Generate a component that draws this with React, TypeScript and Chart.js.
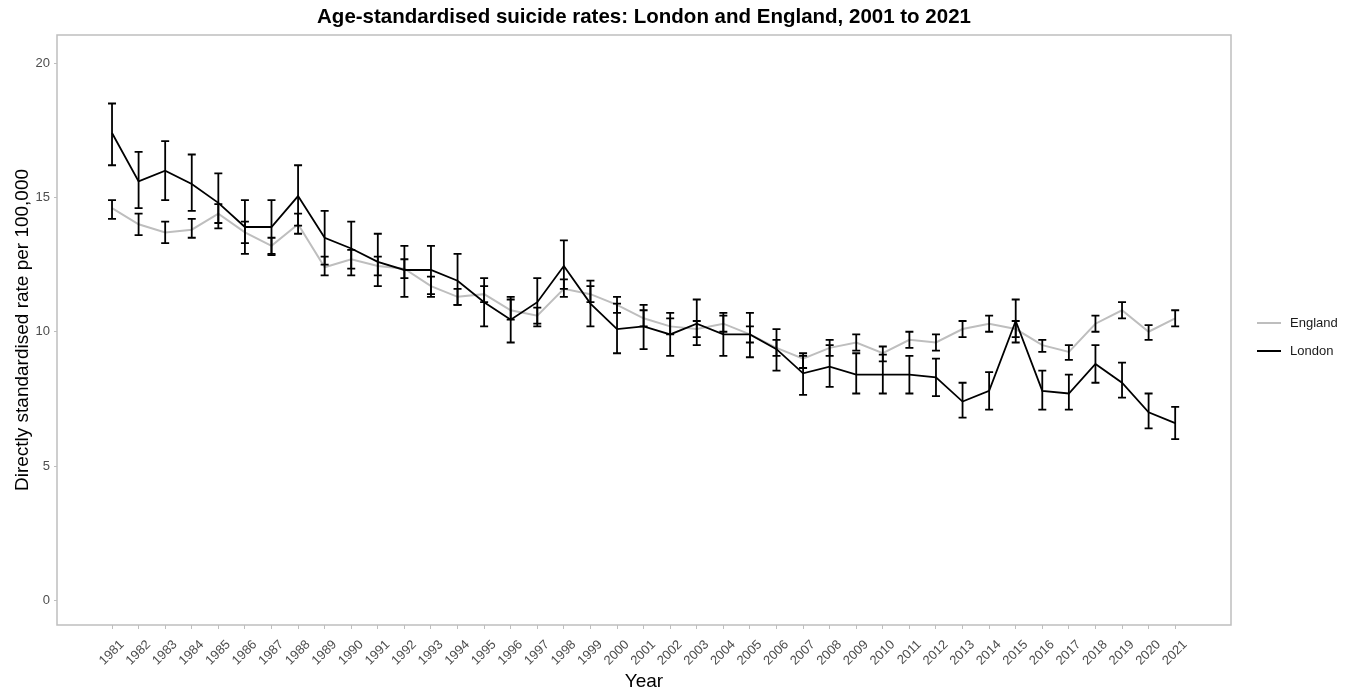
import { useEffect, useRef } from 'react';
import { Chart, registerables } from 'chart.js';

Chart.register(...registerables);

const FONT = '"Liberation Sans", Arial, sans-serif';

const years = [
  1981, 1982, 1983, 1984, 1985, 1986, 1987, 1988, 1989, 1990,
  1991, 1992, 1993, 1994, 1995, 1996, 1997, 1998, 1999, 2000,
  2001, 2002, 2003, 2004, 2005, 2006, 2007, 2008, 2009, 2010,
  2011, 2012, 2013, 2014, 2015, 2016, 2017, 2018, 2019, 2020, 2021,
];

const englandRate = [
  14.6, 14.0, 13.7, 13.8, 14.4, 13.7, 13.2, 14.0, 12.4, 12.7,
  12.45, 12.35, 11.7, 11.3, 11.4, 10.8, 10.6, 11.6, 11.4, 11.0,
  10.5, 10.2, 10.1, 10.3, 9.9, 9.4, 9.0, 9.4, 9.6, 9.2,
  9.7, 9.6, 10.1, 10.3, 10.1, 9.5, 9.25, 10.3, 10.8, 10.0, 10.5,
];
const englandLower = [
  14.2, 13.6, 13.3, 13.5, 14.05, 13.3, 12.9, 13.65, 12.1, 12.35,
  12.1, 12.0, 11.4, 11.0, 11.1, 10.45, 10.3, 11.3, 11.1, 10.7,
  10.2, 9.9, 9.8, 10.0, 9.6, 9.1, 8.65, 9.1, 9.3, 8.9,
  9.4, 9.3, 9.8, 10.0, 9.8, 9.25, 8.95, 10.0, 10.5, 9.7, 10.2,
];
const englandUpper = [
  14.9, 14.4, 14.1, 14.2, 14.75, 14.1, 13.5, 14.4, 12.8, 13.05,
  12.8, 12.7, 12.05, 11.6, 11.7, 11.2, 10.9, 11.95, 11.7, 11.3,
  10.8, 10.5, 10.4, 10.6, 10.2, 9.7, 9.2, 9.7, 9.9, 9.45,
  10.0, 9.9, 10.4, 10.6, 10.4, 9.7, 9.5, 10.6, 11.1, 10.25, 10.8,
];

const londonRate = [
  17.4, 15.6, 16.0, 15.5, 14.8, 13.9, 13.9, 15.05, 13.5, 13.1,
  12.6, 12.3, 12.3, 11.9, 11.1, 10.45, 11.1, 12.45, 11.05, 10.1,
  10.2, 9.9, 10.3, 9.9, 9.9, 9.35, 8.45, 8.7, 8.4, 8.4,
  8.4, 8.3, 7.4, 7.8, 10.4, 7.8, 7.7, 8.8, 8.1, 7.0, 6.6,
];
const londonLower = [
  16.2, 14.6, 14.9, 14.5, 13.85, 12.9, 12.85, 13.95, 12.5, 12.1,
  11.7, 11.3, 11.3, 11.0, 10.2, 9.6, 10.2, 11.6, 10.2, 9.2,
  9.35, 9.1, 9.5, 9.1, 9.05, 8.55, 7.65, 7.95, 7.7, 7.7,
  7.7, 7.6, 6.8, 7.1, 9.6, 7.1, 7.1, 8.1, 7.55, 6.4, 6.0,
];
const londonUpper = [
  18.5, 16.7, 17.1, 16.6, 15.9, 14.9, 14.9, 16.2, 14.5, 14.1,
  13.65, 13.2, 13.2, 12.9, 12.0, 11.3, 12.0, 13.4, 11.9, 11.05,
  11.0, 10.7, 11.2, 10.7, 10.7, 10.1, 9.1, 9.5, 9.2, 9.15,
  9.1, 9.0, 8.1, 8.5, 11.2, 8.55, 8.4, 9.5, 8.85, 7.7, 7.2,
];

const yTicks = [0, 5, 10, 15, 20];

const seriesNames = ['England', 'London'];
const seriesColors = ['#bebebe', '#000000'];

const titleText = 'Age-standardised suicide rates: London and England, 2001 to 2021';
const xTitle = 'Year';
const yTitle = 'Directly standardised rate per 100,000';

export default function App() {
  const ref = useRef<HTMLCanvasElement | null>(null);

  useEffect(() => {
    const canvas = ref.current;
    if (!canvas) return;

    const errorBars = [
      { lower: englandLower, upper: englandUpper },
      { lower: londonLower, upper: londonUpper },
    ];

    const decor = {
      id: 'decor',
      beforeDatasetsDraw(chart: any) {
        const { ctx, chartArea } = chart;
        ctx.save();
        ctx.strokeStyle = '#bebebe';
        ctx.lineWidth = 1.5;
        ctx.strokeRect(chartArea.left, chartArea.top, chartArea.right - chartArea.left, chartArea.bottom - chartArea.top);
        ctx.restore();
      },
      afterDatasetsDraw(chart: any) {
        const { ctx, scales } = chart;
        const xs = scales.x;
        const ys = scales.y;
        ctx.save();
        ctx.strokeStyle = '#000';
        ctx.lineWidth = 1.8;
        errorBars.forEach((eb) => {
          years.forEach((yr, i) => {
            const px = xs.getPixelForValue(yr);
            const pl = ys.getPixelForValue(eb.lower[i]);
            const pu = ys.getPixelForValue(eb.upper[i]);
            ctx.beginPath();
            ctx.moveTo(px, pl);
            ctx.lineTo(px, pu);
            ctx.moveTo(px - 4, pl);
            ctx.lineTo(px + 4, pl);
            ctx.moveTo(px - 4, pu);
            ctx.lineTo(px + 4, pu);
            ctx.stroke();
          });
        });
        ctx.restore();
      },
      afterDraw(chart: any) {
        const { ctx, chartArea } = chart;
        ctx.save();
        ctx.fillStyle = '#000';
        ctx.font = `bold 20.5px ${FONT}`;
        ctx.textAlign = 'center';
        ctx.textBaseline = 'middle';
        ctx.fillText(titleText, (chartArea.left + chartArea.right) / 2, 17);
        ctx.font = `13px ${FONT}`;
        ctx.textAlign = 'left';
        seriesNames.forEach((name, i) => {
          const y = 323 + i * 28;
          ctx.strokeStyle = seriesColors[i];
          ctx.lineWidth = 2;
          ctx.beginPath();
          ctx.moveTo(1257, y);
          ctx.lineTo(1281, y);
          ctx.stroke();
          ctx.fillStyle = '#1a1a1a';
          ctx.fillText(name, 1290, y);
        });
        ctx.restore();
      },
    };

    const chart = new Chart(canvas, {
      type: 'line',
      data: {
        datasets: [
          {
            label: seriesNames[0],
            data: years.map((y, i) => ({ x: y, y: englandRate[i] })),
            borderColor: seriesColors[0],
            borderWidth: 2,
            pointRadius: 0,
            tension: 0,
            order: 2,
          },
          {
            label: seriesNames[1],
            data: years.map((y, i) => ({ x: y, y: londonRate[i] })),
            borderColor: seriesColors[1],
            borderWidth: 1.8,
            pointRadius: 0,
            tension: 0,
            order: 1,
          },
        ],
      },
      options: {
        responsive: false,
        animation: false,
        layout: { padding: { top: 35, right: 121, bottom: 0, left: 0 } },
        plugins: {
          legend: { display: false },
          title: { display: false },
          tooltip: { enabled: false },
        },
        scales: {
          x: {
            type: 'linear',
            min: 1978.93,
            max: 2023.1,
            bounds: 'data',
            afterBuildTicks: (s: any) => {
              s.ticks = years.map((v) => ({ value: v }));
            },
            afterFit: (s: any) => {
              s.height = 66;
            },
            ticks: {
              autoSkip: false,
              minRotation: 45,
              maxRotation: 45,
              color: '#4d4d4d',
              font: { size: 13, family: FONT },
              padding: 8,
              labelOffset: 10,
              callback: (v: any) => String(v),
            },
            grid: {
              display: true,
              drawOnChartArea: false,
              drawTicks: true,
              tickLength: 4,
              color: '#bebebe',
            },
            border: { display: false },
            title: {
              display: true,
              text: xTitle,
              color: '#000',
              font: { size: 19, family: FONT },
              padding: { top: 0, bottom: -2 },
            },
          },
          y: {
            type: 'linear',
            min: -0.92,
            max: 21.05,
            bounds: 'data',
            afterBuildTicks: (s: any) => {
              s.ticks = yTicks.map((v) => ({ value: v }));
            },
            afterFit: (s: any) => {
              s.width = 57;
            },
            ticks: {
              color: '#4d4d4d',
              font: { size: 13, family: FONT },
              padding: 4,
            },
            grid: {
              display: true,
              drawOnChartArea: false,
              drawTicks: true,
              tickLength: 3,
              color: '#bebebe',
            },
            border: { display: false },
            title: {
              display: true,
              text: yTitle,
              color: '#000',
              font: { size: 19, family: FONT },
              padding: { top: 11, bottom: 0 },
            },
          },
        },
      },
      plugins: [decor],
    });

    return () => chart.destroy();
  }, []);

  return (
    <canvas
      ref={ref}
      width={1352}
      height={691}
      style={{ position: 'absolute', left: 0, top: 0, width: 1352, height: 691 }}
    />
  );
}
